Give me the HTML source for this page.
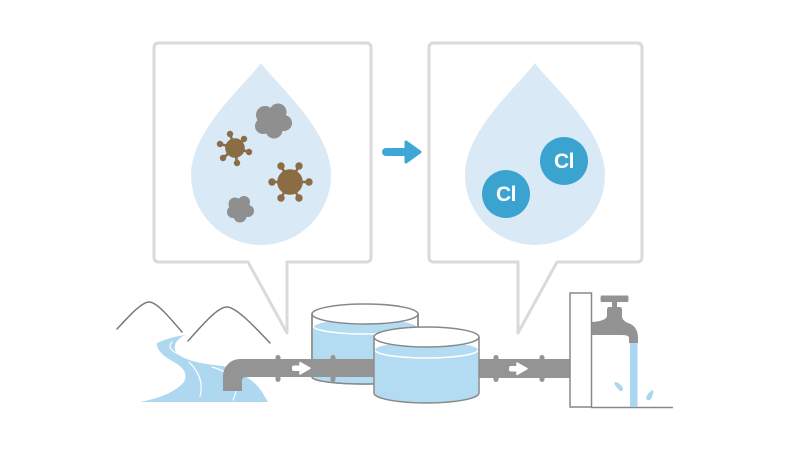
<!DOCTYPE html>
<html><head><meta charset="utf-8"><style>
html,body{margin:0;padding:0;background:#fff;}
svg{display:block;}
</style></head><body>
<svg width="800" height="450" viewBox="0 0 800 450" xmlns="http://www.w3.org/2000/svg">
<rect width="800" height="450" fill="#fff"/>

<!-- Left bubble -->
<path d="M248 262 L159 262 Q154 262 154 257 L154 48 Q154 43 159 43 L366 43 Q371 43 371 48 L371 257 Q371 262 366 262 L287 262 L287 333 Z" fill="#fff" stroke="#dadada" stroke-width="3" stroke-linejoin="round"/>
<!-- Right bubble -->
<path d="M518 262 L434 262 Q429 262 429 257 L429 48 Q429 43 434 43 L637 43 Q642 43 642 48 L642 257 Q642 262 637 262 L557 262 L518 333 Z" fill="#fff" stroke="#dadada" stroke-width="3" stroke-linejoin="round"/>

<!-- Left drop -->
<path d="M261 63 C245 85 191 130 191 175 A70 70 0 0 0 331 175 C331 130 277 85 261 63 Z" fill="#d9eaf6"/>
<!-- Right drop -->
<path d="M535 63 C519 85 465 130 465 175 A70 70 0 0 0 605 175 C605 130 551 85 535 63 Z" fill="#d9eaf6"/>

<!-- clouds -->
<g fill="#8f8f8f">
<circle cx="273" cy="121" r="12"/>
<circle cx="265" cy="115" r="9"/>
<circle cx="278" cy="112" r="8.5"/>
<circle cx="284" cy="123" r="8"/>
<circle cx="274" cy="130" r="8.5"/>
<circle cx="263" cy="126" r="8"/>
<circle cx="240" cy="209" r="9"/>
<circle cx="235" cy="204" r="6.5"/>
<circle cx="244" cy="202" r="6"/>
<circle cx="248" cy="211" r="6"/>
<circle cx="240" cy="216" r="6.5"/>
<circle cx="233" cy="212" r="6"/>
</g>

<!-- viruses -->
<g fill="#8a6d45" stroke="#8a6d45" stroke-width="2.6">
<circle cx="235" cy="148" r="8.5"/>
<line x1="235" y1="148" x2="220" y2="144"/><circle cx="220" cy="144" r="3.2" stroke="none"/>
<line x1="235" y1="148" x2="230" y2="134"/><circle cx="230" cy="134" r="3.2" stroke="none"/>
<line x1="235" y1="148" x2="244" y2="139"/><circle cx="244" cy="139" r="3.2" stroke="none"/>
<line x1="235" y1="148" x2="249" y2="152"/><circle cx="249" cy="152" r="3.2" stroke="none"/>
<line x1="235" y1="148" x2="237" y2="163"/><circle cx="237" cy="163" r="3.2" stroke="none"/>
<line x1="235" y1="148" x2="223" y2="158"/><circle cx="223" cy="158" r="3.2" stroke="none"/>

<circle cx="290" cy="182" r="11.5"/>
<line x1="290" y1="182" x2="281" y2="166"/><circle cx="281" cy="166" r="3.7" stroke="none"/>
<line x1="290" y1="182" x2="299" y2="166"/><circle cx="299" cy="166" r="3.7" stroke="none"/>
<line x1="290" y1="182" x2="272" y2="182"/><circle cx="272" cy="182" r="3.7" stroke="none"/>
<line x1="290" y1="182" x2="309" y2="182"/><circle cx="309" cy="182" r="3.7" stroke="none"/>
<line x1="290" y1="182" x2="281" y2="198"/><circle cx="281" cy="198" r="3.7" stroke="none"/>
<line x1="290" y1="182" x2="299" y2="198"/><circle cx="299" cy="198" r="3.7" stroke="none"/>
</g>

<!-- Cl circles -->
<circle cx="564" cy="161" r="24" fill="#3ba3cf"/>
<circle cx="506" cy="194" r="24" fill="#3ba3cf"/>
<text x="564" y="168" text-anchor="middle" font-family="Liberation Sans, sans-serif" font-size="21" font-weight="bold" letter-spacing="-0.5" fill="#fff">Cl</text>
<text x="506" y="201" text-anchor="middle" font-family="Liberation Sans, sans-serif" font-size="21" font-weight="bold" letter-spacing="-0.5" fill="#fff">Cl</text>

<!-- blue arrow -->
<line x1="386" y1="152" x2="410" y2="152" stroke="#3ea7d6" stroke-width="8" stroke-linecap="round"/>
<path d="M406 142 L420 152 L406 162 Z" fill="#3ea7d6" stroke="#3ea7d6" stroke-width="3" stroke-linejoin="round"/>

<!-- mountains -->
<g fill="none" stroke="#7a7a7a" stroke-width="1.5" stroke-linecap="round">
<path d="M117 329 C130 315 142 302 149 302 C157 302 170 318 182 332"/>
<path d="M188 341 C205 322 218 307 227 307 C236 307 255 327 270 343"/>
</g>

<!-- river -->
<path d="M157 343 Q170 337 185 335 Q173 341 175 350 Q180 362 223 366 Q252 376 262 392 L268 402 L140 402 Q172 396 184 382 Q190 370 172 361 Q156 352 157 343 Z" fill="#aed8f0"/>
<g fill="none" stroke="#fff" stroke-width="1.2" stroke-linecap="round">
<path d="M172 342 Q166 348 178 354"/>
<path d="M189 362 Q205 378 200 396"/>
<path d="M212 367 Q220 369 226 373"/>
<path d="M236 388 Q236 395 233 400"/>
</g>

<!-- Tank 1 (back) -->
<path d="M312 314 L312 377 A53 7 0 0 0 418 377 L418 314 Z" fill="#fff" stroke="#888" stroke-width="1.5"/>
<path d="M312.8 328 A52.2 9 0 0 1 417.2 328 L417.2 377 A52.2 7 0 0 1 312.8 377 Z" fill="#b3dcf2"/>
<path d="M313 326 A52 8 0 0 0 417 326" fill="none" stroke="#fff" stroke-width="1.5"/>
<ellipse cx="365" cy="314" rx="53" ry="10" fill="#fff" stroke="#888" stroke-width="1.5"/>
<path d="M312 314 L312 377 A53 7 0 0 0 418 377 L418 314" fill="none" stroke="#888" stroke-width="1.5"/>

<!-- Left pipe -->
<path d="M223 391 L223 376 A17 17 0 0 1 240 359 L380 359 L380 377 L246 377 Q242 377 242 381 L242 391 Z" fill="#949494"/>
<rect x="275.5" y="355" width="5" height="27" rx="2.5" fill="#949494"/>
<rect x="330.5" y="355" width="5" height="27" rx="2.5" fill="#949494"/>
<rect x="292" y="365.5" width="11" height="5.5" rx="2" fill="#fff"/>
<path d="M300 362.5 L310 368.2 L300 374 Z" fill="#fff" stroke="#fff" stroke-width="1.5" stroke-linejoin="round"/>

<!-- Right pipe -->
<rect x="470" y="359" width="100" height="19" fill="#949494"/>
<rect x="493.5" y="355" width="5" height="27" rx="2.5" fill="#949494"/>
<rect x="539.5" y="355" width="5" height="27" rx="2.5" fill="#949494"/>
<rect x="509" y="366" width="11" height="5.5" rx="2" fill="#fff"/>
<path d="M517 363 L527 368.7 L517 374.5 Z" fill="#fff" stroke="#fff" stroke-width="1.5" stroke-linejoin="round"/>

<!-- Tank 2 (front) -->
<path d="M374 337 L374 393 A52.5 10 0 0 0 479 393 L479 337 Z" fill="#fff"/>
<path d="M374.8 350 A51.7 8 0 0 1 478.2 350 L478.2 393 A51.7 10 0 0 1 374.8 393 Z" fill="#b3dcf2"/>
<path d="M375 350 A51.5 8 0 0 0 478 350" fill="none" stroke="#fff" stroke-width="1.5"/>
<ellipse cx="426.5" cy="337" rx="52.5" ry="10" fill="#fff" stroke="#888" stroke-width="1.5"/>
<path d="M374 337 L374 393 A52.5 10 0 0 0 479 393 L479 337" fill="none" stroke="#888" stroke-width="1.5"/>

<!-- Building -->
<rect x="570" y="293" width="21.5" height="114" fill="#fff" stroke="#888" stroke-width="1.5"/>
<line x1="591" y1="407.5" x2="673" y2="407.5" stroke="#888" stroke-width="1.5"/>

<!-- water stream -->
<rect x="630" y="338" width="7.5" height="69" fill="#a9d6f0"/>
<path d="M620 391 Q613 384 615 382 Q619 382 623 388 Q623 392 620 391 Z" fill="#a9d6f0"/>
<path d="M646 398 Q648 392 653 390 Q654 395 650 400 Q647 401 646 398 Z" fill="#a9d6f0"/>

<!-- Faucet -->
<g fill="#939393">
<path d="M601 295.5 Q600 298.5 601 302 L628 302 Q629 298.5 628 295.5 Z"/>
<rect x="612" y="301" width="5" height="7"/>
<path d="M609 307 L620 307 Q622 307 622 310 L622 317 Q623 321 628 323 L592 323 L592 322 Q606 321 607 316 L607 310 Q607 307 609 307 Z"/>
<path d="M592 322 L620 322 Q638 322 638 338 L638 343 L629 343 L629 338 Q629 335 622 335 L592 335 Z"/>
</g>
</svg>
</body></html>
